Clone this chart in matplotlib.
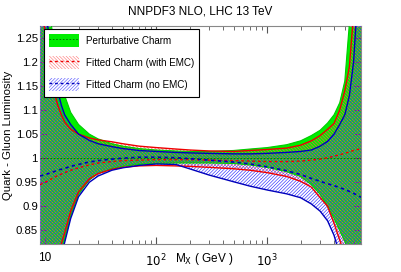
import numpy as np
import matplotlib
matplotlib.use("Agg")
import matplotlib.pyplot as plt
from matplotlib.patches import Patch
from matplotlib.lines import Line2D
from matplotlib.legend_handler import HandlerTuple

plt.rcParams['font.family'] = ['Liberation Sans', 'DejaVu Sans']
plt.rcParams['hatch.linewidth'] = 0.45

# invariant mass grid (GeV)
mx = [9, 10, 11, 12, 13, 14, 15, 17, 20, 25, 30, 40, 50, 70, 100, 150, 200, 300,
      500, 700, 1000, 1500, 2000, 2500, 3000, 3500, 4000, 4500, 5000, 5500, 6000, 6500, 7000]

# perturbative charm (green)
pc_up = [1.45, 1.36, 1.30, 1.24, 1.18, 1.15, 1.13, 1.095, 1.07, 1.05, 1.04, 1.03, 1.025, 1.02, 1.017,
         1.015, 1.014, 1.014, 1.016, 1.019, 1.022, 1.028, 1.036, 1.047, 1.058, 1.073, 1.09, 1.115,
         1.16, 1.28, 1.36, 1.42, 1.5]
pc_lo = [0.60, 0.65, 0.69, 0.73, 0.77, 0.80, 0.83, 0.88, 0.925, 0.955, 0.968, 0.978, 0.983, 0.987,
         0.989, 0.99, 0.99, 0.99, 0.989, 0.986, 0.981, 0.972, 0.962, 0.945, 0.925, 0.90, 0.875, 0.85,
         0.828, 0.80, 0.77, 0.73, 0.70]
pc_c = [1.0] * len(mx)

# fitted charm, with EMC (red)
emc_up = [1.35, 1.26, 1.19, 1.14, 1.11, 1.09, 1.075, 1.06, 1.05, 1.042, 1.038, 1.034, 1.03, 1.025,
          1.022, 1.019, 1.017, 1.015, 1.014, 1.016, 1.018, 1.021, 1.027, 1.036, 1.047, 1.06, 1.072,
          1.10, 1.14, 1.19, 1.30, 1.40, 1.48]
emc_lo = [0.62, 0.67, 0.71, 0.75, 0.785, 0.822, 0.845, 0.89, 0.93, 0.957, 0.968, 0.977, 0.981, 0.984,
          0.985, 0.984, 0.983, 0.981, 0.978, 0.975, 0.97, 0.962, 0.952, 0.94, 0.918, 0.90, 0.865,
          0.83, 0.80, 0.77, 0.74, 0.71, 0.68]
emc_c = [0.945, 0.95, 0.955, 0.96, 0.964, 0.967, 0.97, 0.975, 0.98, 0.986, 0.99, 0.993, 0.995, 0.996,
         0.997, 0.997, 0.997, 0.996, 0.995, 0.994, 0.993, 0.993, 0.994, 0.996, 0.998, 1.001, 1.004,
         1.007, 1.01, 1.013, 1.016, 1.018, 1.02]

# fitted charm, no EMC (blue)
nemc_up = [1.45, 1.32, 1.24, 1.18, 1.14, 1.11, 1.09, 1.07, 1.05, 1.037, 1.03, 1.024, 1.02, 1.016,
           1.014, 1.012, 1.011, 1.01, 1.009, 1.009, 1.01, 1.012, 1.014, 1.017, 1.025, 1.035, 1.05,
           1.07, 1.09, 1.13, 1.2, 1.33, 1.45]
nemc_lo = [0.60, 0.645, 0.685, 0.725, 0.76, 0.80, 0.825, 0.875, 0.92, 0.95, 0.963, 0.975, 0.98, 0.985,
           0.988, 0.987, 0.978, 0.965, 0.951, 0.942, 0.934, 0.926, 0.918, 0.905, 0.89, 0.87, 0.84,
           0.80, 0.76, 0.72, 0.68, 0.64, 0.60]
nemc_c = [0.963, 0.966, 0.969, 0.972, 0.975, 0.977, 0.979, 0.983, 0.987, 0.992, 0.995, 0.998, 1.0,
          1.002, 1.002, 1.001, 0.999, 0.996, 0.992, 0.988, 0.982, 0.974, 0.966, 0.958, 0.952, 0.947,
          0.943, 0.939, 0.935, 0.931, 0.927, 0.923, 0.919]

labels = ['Perturbative Charm', 'Fitted Charm (with EMC)', 'Fitted Charm (no EMC)']

green = '#00ee00'
red = '#ee0000'
blue = '#0000bb'
hatch_r = '\\' * 10
hatch_b = '/' * 10

fig = plt.figure(figsize=(4.01, 2.72), dpi=100)
ax = fig.add_axes([0.0998, 0.103, 0.8005, 0.801])

ax.fill_between(mx, pc_lo, pc_up, facecolor=green, edgecolor='none', zorder=1)
ax.fill_between(mx, emc_lo, emc_up, facecolor='none', edgecolor='#ff5050', hatch=hatch_r,
                linewidth=0, zorder=2)
ax.fill_between(mx, nemc_lo, nemc_up, facecolor='none', edgecolor='#3030ff', hatch=hatch_b,
                linewidth=0, zorder=3)

ax.plot(mx, pc_up, color='#00cc00', lw=0.8, zorder=4)
ax.plot(mx, pc_lo, color='#00cc00', lw=0.8, zorder=4)
ax.plot(mx, pc_c, color='#006600', lw=0.6, ls=(0, (2, 2)), zorder=5)
ax.plot(mx, emc_up, color=red, lw=1.0, zorder=5)
ax.plot(mx, emc_lo, color=red, lw=1.0, zorder=5)
ax.plot(mx, emc_c, color=red, lw=1.0, ls=(0, (2, 2)), zorder=6)
ax.plot(mx, nemc_up, color=blue, lw=1.0, zorder=5)
ax.plot(mx, nemc_lo, color=blue, lw=1.0, zorder=5)
ax.plot(mx, nemc_c, color=blue, lw=1.2, ls=(0, (2, 2)), zorder=6)

ax.set_xscale('log')
ax.set_xlim(9, 7000)
ax.set_ylim(0.822, 1.274)
ax.set_xticks([10, 100, 1000])
ax.set_xticklabels(['10', '$10^2$', '$10^3$'])
ax.set_yticks([0.85, 0.9, 0.95, 1.0, 1.05, 1.1, 1.15, 1.2, 1.25])
ax.set_yticklabels(['0.85', '0.9', '0.95', '1', '1.05', '1.1', '1.15', '1.2', '1.25'])
ax.tick_params(which='both', direction='in', top=True, right=True, labelsize=8.5, color='#555555')
ax.tick_params(which='major', length=5)
ax.tick_params(which='minor', length=3)
ax.tick_params(axis='x', pad=6)
ax.tick_params(axis='y', pad=1.5, labelsize=8.2)
for s in ax.spines.values():
    s.set_color('#888888')
    s.set_linewidth(0.8)

ax.set_ylabel('Quark - Gluon Luminosity', fontsize=8.2)
ax.yaxis.set_label_coords(-0.083, 0.5)
fig.text(0.51, 0.035, 'M$_{\\rm X}$ ( GeV )', fontsize=8.5, ha='center')
fig.text(0.5, 0.945, 'NNPDF3 NLO, LHC 13 TeV', fontsize=8.5, ha='center')

h1 = (Patch(facecolor=green, edgecolor='none'), Line2D([], [], color='#006600', lw=0.6, ls=(0, (2, 2))))
h2 = (Patch(facecolor='white', edgecolor='#ff8080', hatch=hatch_r, lw=0),
      Line2D([], [], color=red, lw=1.0, ls=(0, (2, 2))))
h3 = (Patch(facecolor='white', edgecolor='#6060ff', hatch=hatch_b, lw=0),
      Line2D([], [], color=blue, lw=1.0, ls=(0, (2, 2))))
leg = ax.legend([h1, h2, h3], labels, handler_map={tuple: HandlerTuple(ndivide=1)},
                loc='upper left', bbox_to_anchor=(0.012, 0.987), fontsize=7.1, frameon=True,
                fancybox=False, edgecolor='black', framealpha=1, handlelength=3.0,
                handleheight=1.6, labelspacing=0.95, borderpad=0.55, handletextpad=0.7,
                borderaxespad=0)
leg.get_frame().set_linewidth(0.8)
leg.set_zorder(10)

fig.savefig('out.png', dpi=100)
